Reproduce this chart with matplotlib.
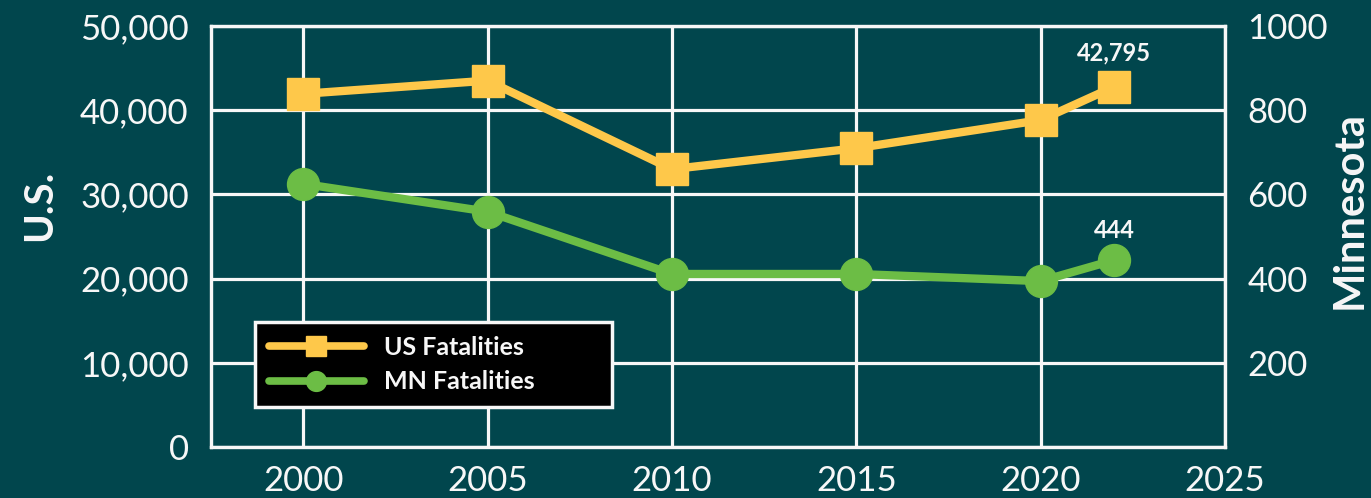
import matplotlib
matplotlib.use("Agg")
import matplotlib.pyplot as plt
from matplotlib.ticker import FuncFormatter

years = [2000, 2005, 2010, 2015, 2020, 2022]
us_fatalities = [41945, 43510, 32999, 35484, 38824, 42795]
mn_fatalities = [625, 559, 411, 411, 394, 444]
x_ticks = [2000, 2005, 2010, 2015, 2020, 2025]
us_ticks = [0, 10000, 20000, 30000, 40000, 50000]
mn_ticks = [200, 400, 600, 800, 1000]

bg = "#01464d"
yellow = "#fec84a"
green = "#6cbd45"
white = "#f7f7f7"

plt.rcParams['font.family'] = ['Lato', 'DejaVu Sans']

fig = plt.figure(figsize=(13.71, 4.98), dpi=100, facecolor=bg)
ax = fig.add_axes([0.1539, 0.1024, 0.7396, 0.8454])
ax.set_facecolor(bg)
ax2 = ax.twinx()

ax.set_xlim(1997.5, 2025)
ax.set_ylim(0, 50000)
ax2.set_ylim(0, 1000)
ax.set_xticks(x_ticks)
ax.set_yticks(us_ticks)
ax2.set_yticks(mn_ticks)
ax.yaxis.set_major_formatter(FuncFormatter(lambda v, p: f"{int(v):,}"))

ax.grid(True, color=white, linewidth=2.3)
ax.set_axisbelow(True)
for a in (ax, ax2):
    for s in a.spines.values():
        s.set_color(white)
        s.set_linewidth(2.3)
    a.tick_params(length=0, labelsize=25, labelcolor=white)
ax.tick_params(axis='x', pad=13)
ax.tick_params(axis='y', pad=16)
ax2.tick_params(axis='y', pad=16)

l1, = ax.plot(years, us_fatalities, color=yellow, linewidth=6, marker='s',
              markersize=23, solid_capstyle='round', label='US Fatalities', zorder=3)
l2, = ax2.plot(years, mn_fatalities, color=green, linewidth=6, marker='o',
               markersize=23, solid_capstyle='round', label='MN Fatalities', zorder=3)

# value labels on the last point
ax.annotate(f"{us_fatalities[-1]:,}", (years[-1], us_fatalities[-1]),
            xytext=(0, 19), textcoords='offset points', ha='center',
            color=white, fontsize=17, fontweight='bold')
ax2.annotate(f"{mn_fatalities[-1]}", (years[-1], mn_fatalities[-1]),
             xytext=(0, 16), textcoords='offset points', ha='center',
             color=white, fontsize=17, fontweight='bold')

fig.text(0.0292, 0.588, "U.S.", color=white, fontsize=29, fontweight='bold',
         rotation=90, ha='center', va='center')
fig.text(0.9847, 0.578, "Minnesota", color=white, fontsize=30, fontweight='bold',
         rotation=90, ha='center', va='center')

leg = ax2.legend(handles=[l1, l2], loc='lower left',
                 bbox_to_anchor=(0.0434, 0.095, 0.352, 0.2), mode='expand',
                 facecolor='black', edgecolor=white, framealpha=1, fancybox=False,
                 labelcolor=white, handlelength=3.8, markerscale=0.62,
                 borderpad=0.55, labelspacing=0.45, borderaxespad=0,
                 prop={'weight': 'bold', 'size': 18})
leg.get_frame().set_linewidth(2.5)
for h in leg.legend_handles:
    h.set_linewidth(5.5)

fig.savefig("out.png", facecolor=bg)
